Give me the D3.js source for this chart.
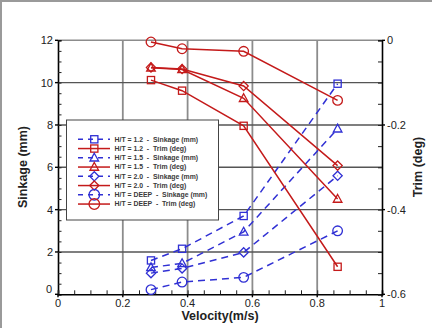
<!DOCTYPE html>
<html><head><meta charset="utf-8">
<script src="https://cdn.jsdelivr.net/npm/d3@7"></script>
<style>
html,body{margin:0;padding:0;background:#fff;}
svg{display:block;font-family:Arial,"Liberation Sans",sans-serif;}
</style></head>
<body><svg id="c" width="432" height="328"></svg>
<script>
// ---- data ----
const velocity = [0.287, 0.383, 0.573, 0.863];
const seriesNames = ["1.2", "1.5", "2.0", "DEEP"];
const sink_12 = [1.6, 2.15, 3.7, 9.95];
const sink_15 = [1.27, 1.46, 2.95, 7.82];
const sink_20 = [1.0, 1.22, 1.98, 5.6];
const sink_deep = [0.22, 0.58, 0.8, 3.0];
const trim_12 = [-0.094, -0.119, -0.202, -0.535];
const trim_15 = [-0.065, -0.069, -0.137, -0.375];
const trim_20 = [-0.064, -0.068, -0.108, -0.296];
const trim_deep = [-0.004, -0.020, -0.026, -0.142];
const xTicks = [0, 0.2, 0.4, 0.6, 0.8, 1];
const yTicks = [0, 2, 4, 6, 8, 10, 12];
const y2Ticks = [0, -0.2, -0.4, -0.6];
const xTickLabels = ["0", "0.2", "0.4", "0.6", "0.8", "1"];

const blue = "#3030d4", red = "#c41a1a";
const svg = d3.select("#c");
const L = 58, R = 382, T = 40.3, B = 294.3;
const x = d3.scaleLinear().domain([0, 1]).range([L, R]);
const y = d3.scaleLinear().domain([0, 12]).range([B, T]);
const y2 = d3.scaleLinear().domain([-0.6, 0]).range([B, T]);

// outer frame
svg.append("line").attr("x1",0).attr("x2",432).attr("y1",1).attr("y2",1).attr("stroke","#9a9a9a").attr("stroke-width",2);
svg.append("line").attr("x1",1).attr("x2",1).attr("y1",0).attr("y2",328).attr("stroke","#9a9a9a").attr("stroke-width",2);

// grid
const g = svg.append("g");
xTicks.slice(1, -1).forEach(v => g.append("line").attr("x1", x(v)).attr("x2", x(v)).attr("y1", T).attr("y2", B)
  .attr("stroke", "#8c8c8c").attr("stroke-width", 1.8));
yTicks.slice(1, -1).forEach(v => g.append("line").attr("x1", L).attr("x2", R).attr("y1", y(v)).attr("y2", y(v))
  .attr("stroke", "#555").attr("stroke-width", 1.4));
// top border
g.append("line").attr("x1", L).attr("x2", R).attr("y1", T).attr("y2", T).attr("stroke", "#8c8c8c").attr("stroke-width", 1.5);

// axes with inside ticks
const leftAx = svg.append("g").attr("transform", `translate(${L},0)`)
  .call(d3.axisLeft(y).tickValues(d3.range(0, 12.01, 0.5)).tickSize(-3.5).tickFormat(""));
const bottomAx = svg.append("g").attr("transform", `translate(0,${B})`)
  .call(d3.axisBottom(x).tickValues(d3.range(0, 1.001, 0.05)).tickSize(-4).tickFormat(""));
const rightAx = svg.append("g").attr("transform", `translate(${R},0)`)
  .call(d3.axisRight(y2).tickValues(d3.range(-0.6, 0.001, 0.05)).tickSize(-4).tickFormat(""));
[leftAx, bottomAx, rightAx].forEach(a => {
  a.selectAll("path.domain").attr("stroke", "#000").attr("stroke-width", 1.6);
  a.selectAll(".tick line").attr("stroke", "#222").attr("stroke-width", 1);
});
// major ticks outward
yTicks.forEach(v => svg.append("line").attr("x1", L - 3).attr("x2", L).attr("y1", y(v)).attr("y2", y(v)).attr("stroke", "#000").attr("stroke-width", 1.4));
y2Ticks.forEach(v => svg.append("line").attr("x1", R).attr("x2", R + 3).attr("y1", y2(v)).attr("y2", y2(v)).attr("stroke", "#000").attr("stroke-width", 1.4));
xTicks.forEach(v => svg.append("line").attr("x1", x(v)).attr("x2", x(v)).attr("y1", B).attr("y2", B + 3).attr("stroke", "#000").attr("stroke-width", 1.4));

// tick labels
const tl = svg.append("g").attr("font-size", 11).attr("fill", "#222");
yTicks.forEach(v => tl.append("text").attr("x", v === 0 ? 52 : 53).attr("y", y(v) + (v === 0 ? -1 : 4))
  .attr("text-anchor", "end").text(v));
y2Ticks.forEach(v => tl.append("text").attr("x", 387).attr("y", y2(v) + 4).text(v === 0 ? "0" : v.toFixed(1)));
xTicks.forEach((v, i) => tl.append("text").attr("x", x(v)).attr("y", 307).attr("text-anchor", "middle").text(xTickLabels[i]));

// axis titles
svg.append("text").attr("transform", `translate(27,167) rotate(-90)`).attr("text-anchor", "middle")
  .attr("font-size", 12.5).attr("font-weight", "bold").attr("fill", "#222").text("Sinkage (mm)");
svg.append("text").attr("transform", `translate(422,167) rotate(-90)`).attr("text-anchor", "middle")
  .attr("font-size", 12.5).attr("font-weight", "bold").attr("fill", "#222").text("Trim (deg)");
svg.append("text").attr("x", 220).attr("y", 320).attr("text-anchor", "middle")
  .attr("font-size", 12.5).attr("font-weight", "bold").attr("fill", "#222").text("Velocity(m/s)");

// marker drawing
function marker(sel, shape, cx, cy, color, s) {
  s = s || 1;
  if (shape === "square") sel.append("rect").attr("x", cx - 3.6 * s).attr("y", cy - 3.6 * s).attr("width", 7.2 * s).attr("height", 7.2 * s)
    .attr("fill", "none").attr("stroke", color).attr("stroke-width", 1.3);
  else if (shape === "triangle") sel.append("path").attr("d", `M${cx},${cy - 4.6 * s}L${cx + 4.3 * s},${cy + 3.2 * s}L${cx - 4.3 * s},${cy + 3.2 * s}Z`)
    .attr("fill", "none").attr("stroke", color).attr("stroke-width", 1.3);
  else if (shape === "diamond") sel.append("path").attr("d", `M${cx},${cy - 4.6 * s}L${cx + 4.6 * s},${cy}L${cx},${cy + 4.6 * s}L${cx - 4.6 * s},${cy}Z`)
    .attr("fill", "none").attr("stroke", color).attr("stroke-width", 1.3);
  else sel.append("circle").attr("cx", cx).attr("cy", cy).attr("r", 4.8 * s)
    .attr("fill", "none").attr("stroke", color).attr("stroke-width", 1.3);
}

const shapes = ["square", "triangle", "diamond", "circle"];
const sinks = [sink_12, sink_15, sink_20, sink_deep];
const trims = [trim_12, trim_15, trim_20, trim_deep];
const plot = svg.append("g");
sinks.forEach((arr, i) => {
  const line = d3.line().x((d, j) => x(velocity[j])).y(d => y(d));
  plot.append("path").attr("d", line(arr)).attr("fill", "none").attr("stroke", blue)
    .attr("stroke-width", 1.5).attr("stroke-dasharray", "7,5");
});
trims.forEach((arr, i) => {
  const line = d3.line().x((d, j) => x(velocity[j])).y(d => y2(d));
  plot.append("path").attr("d", line(arr)).attr("fill", "none").attr("stroke", red).attr("stroke-width", 1.5);
});
sinks.forEach((arr, i) => arr.forEach((d, j) => marker(plot, shapes[i], x(velocity[j]), y(d), blue)));
trims.forEach((arr, i) => arr.forEach((d, j) => marker(plot, shapes[i], x(velocity[j]), y2(d), red)));

// legend
const lg = svg.append("g");
lg.append("rect").attr("x", 66.5).attr("y", 120).attr("width", 152).attr("height", 100)
  .attr("fill", "#fff").attr("stroke", "#444").attr("stroke-width", 1);
seriesNames.forEach((nm, i) => {
  [0, 1].forEach(k => {
    const idx = i * 2 + k;
    const yy = 139.3 + idx * 9.25;
    const col = k === 0 ? blue : red;
    const ln = lg.append("line").attr("x1", 78).attr("x2", 110).attr("y1", yy).attr("y2", yy)
      .attr("stroke", col).attr("stroke-width", 1.5);
    if (k === 0) ln.attr("stroke-dasharray", "5,5").attr("stroke-dashoffset", 0);
    marker(lg, shapes[i], 94.3, yy, col, i === 3 ? 1.1 : 1);
    lg.append("text").attr("x", 114.5).attr("y", yy + 2.4).attr("font-size", 6.9).attr("font-weight", "bold")
      .attr("fill", "#3a3a3a").attr("xml:space", "preserve").style("white-space", "pre")
      .text(`H/T = ${nm}  -  ${k === 0 ? "Sinkage (mm)" : "Trim (deg)"}`);
  });
});
</script>
</body></html>
